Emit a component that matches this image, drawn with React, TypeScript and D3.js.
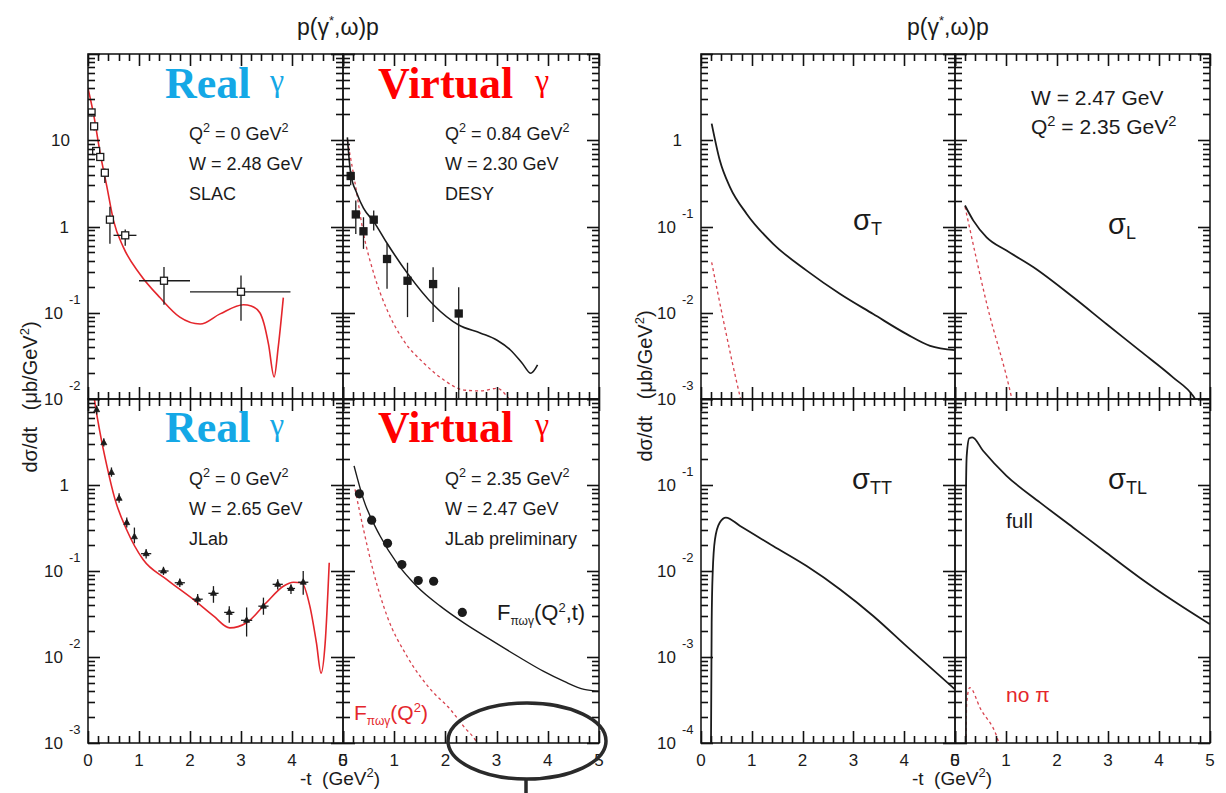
import React from 'react';
import * as d3 from 'd3';

type Pt = [number, number];
type Obs = { t: number; v: number; lo: number; hi: number; tLo: number; tHi: number };

// ---- top-left: real photon, SLAC, Q2 = 0, W = 2.48 GeV
const slacModel: Pt[] = [
  [0, 40], [0.11, 20], [0.24, 7], [0.37, 2.9], [0.5, 1.17], [0.69, 0.58], [1.02, 0.28],
  [1.41, 0.15], [1.8, 0.089], [2.2, 0.074], [2.59, 0.097], [3.05, 0.124], [3.2, 0.12],
  [3.37, 0.1], [3.45, 0.075], [3.54, 0.043], [3.65, 0.018], [3.73, 0.04], [3.83, 0.15],
];
const slacData: Obs[] = [
  { t: 0.07, v: 21, lo: 19, hi: 23, tLo: 0.07, tHi: 0.07 },
  { t: 0.12, v: 14.5, lo: 13, hi: 16, tLo: 0.12, tHi: 0.12 },
  { t: 0.16, v: 7.5, lo: 6.8, hi: 8.3, tLo: 0.16, tHi: 0.16 },
  { t: 0.24, v: 6.4, lo: 5.8, hi: 7.1, tLo: 0.24, tHi: 0.24 },
  { t: 0.33, v: 4.2, lo: 3.2, hi: 4.7, tLo: 0.33, tHi: 0.33 },
  { t: 0.43, v: 1.2, lo: 0.63, hi: 1.69, tLo: 0.43, tHi: 0.43 },
  { t: 0.73, v: 0.79, lo: 0.6, hi: 0.92, tLo: 0.5, tHi: 0.95 },
  { t: 1.49, v: 0.235, lo: 0.124, hi: 0.34, tLo: 1.0, tHi: 2.0 },
  { t: 3.0, v: 0.175, lo: 0.081, hi: 0.27, tLo: 2.0, tHi: 3.97 },
];

// ---- top-right: virtual photon, DESY, Q2 = 0.84, W = 2.30 GeV
const desyFull: Pt[] = [
  [0.085, 10.8], [0.15, 4.14], [0.27, 2.43], [0.4, 1.63], [0.6, 1.14], [0.86, 0.64],
  [1.26, 0.286], [1.77, 0.123], [2.26, 0.072], [2.69, 0.058], [3.01, 0.048], [3.27, 0.037],
  [3.5, 0.026], [3.67, 0.0199], [3.8, 0.0248],
];
const desyNoPi: Pt[] = [
  [0.085, 10], [0.235, 3.2], [0.4, 0.83], [0.6, 0.286], [0.86, 0.108], [1.18, 0.048],
  [1.58, 0.026], [1.97, 0.0166], [2.36, 0.0127], [2.69, 0.0124], [3.01, 0.0133], [3.21, 0.0106],
  [3.3, 0.009],
];
const desyData: Obs[] = [
  { t: 0.15, v: 3.85, lo: 3.0, hi: 4.4, tLo: 0.15, tHi: 0.15 },
  { t: 0.25, v: 1.38, lo: 0.82, hi: 2.0, tLo: 0.25, tHi: 0.25 },
  { t: 0.4, v: 0.88, lo: 0.55, hi: 1.28, tLo: 0.4, tHi: 0.4 },
  { t: 0.6, v: 1.2, lo: 0.9, hi: 1.53, tLo: 0.6, tHi: 0.6 },
  { t: 0.86, v: 0.42, lo: 0.19, hi: 0.63, tLo: 0.86, tHi: 0.86 },
  { t: 1.26, v: 0.235, lo: 0.089, hi: 0.38, tLo: 1.26, tHi: 1.26 },
  { t: 1.76, v: 0.215, lo: 0.078, hi: 0.336, tLo: 1.76, tHi: 1.76 },
  { t: 2.26, v: 0.098, lo: 0.01, hi: 0.197, tLo: 2.26, tHi: 2.26 },
];

// ---- bottom-left: real photon, JLab, Q2 = 0, W = 2.65 GeV
const jlabRealModel: Pt[] = [
  [0.1, 13], [0.125, 10], [0.235, 4.1], [0.37, 1.67], [0.53, 0.68], [0.76, 0.3], [1.08, 0.136],
  [1.54, 0.08], [2.06, 0.047], [2.46, 0.03], [2.78, 0.0218], [3.11, 0.025], [3.5, 0.043],
  [3.83, 0.0665], [4.03, 0.074], [4.19, 0.073], [4.35, 0.039], [4.48, 0.0145], [4.57, 0.0065],
  [4.65, 0.0145], [4.73, 0.125],
];
const jlabRealData: Obs[] = [
  { t: 0.17, v: 7.5, lo: 6.6, hi: 8.4, tLo: 0.15, tHi: 0.19 },
  { t: 0.31, v: 3.1, lo: 2.8, hi: 3.5, tLo: 0.28, tHi: 0.34 },
  { t: 0.46, v: 1.4, lo: 1.25, hi: 1.6, tLo: 0.43, tHi: 0.49 },
  { t: 0.61, v: 0.7, lo: 0.62, hi: 0.8, tLo: 0.58, tHi: 0.64 },
  { t: 0.76, v: 0.365, lo: 0.32, hi: 0.42, tLo: 0.72, tHi: 0.8 },
  { t: 0.91, v: 0.25, lo: 0.21, hi: 0.32, tLo: 0.88, tHi: 0.94 },
  { t: 1.14, v: 0.159, lo: 0.14, hi: 0.18, tLo: 1.04, tHi: 1.24 },
  { t: 1.48, v: 0.1, lo: 0.09, hi: 0.112, tLo: 1.38, tHi: 1.58 },
  { t: 1.8, v: 0.073, lo: 0.065, hi: 0.082, tLo: 1.7, tHi: 1.9 },
  { t: 2.15, v: 0.047, lo: 0.04, hi: 0.054, tLo: 2.05, tHi: 2.25 },
  { t: 2.46, v: 0.055, lo: 0.0427, hi: 0.0667, tLo: 2.36, tHi: 2.56 },
  { t: 2.77, v: 0.033, lo: 0.025, hi: 0.039, tLo: 2.67, tHi: 2.87 },
  { t: 3.11, v: 0.0267, lo: 0.0173, hi: 0.0377, tLo: 3.0, tHi: 3.22 },
  { t: 3.44, v: 0.039, lo: 0.031, hi: 0.049, tLo: 3.34, tHi: 3.54 },
  { t: 3.72, v: 0.07, lo: 0.061, hi: 0.08, tLo: 3.62, tHi: 3.82 },
  { t: 3.98, v: 0.0626, lo: 0.054, hi: 0.07, tLo: 3.9, tHi: 4.06 },
  { t: 4.22, v: 0.074, lo: 0.053, hi: 0.1, tLo: 4.12, tHi: 4.32 },
];

// ---- bottom-right: virtual photon, JLab preliminary, Q2 = 2.35, W = 2.47 GeV
const jlabVirtFull: Pt[] = [
  [0.216, 1.67], [0.4, 0.68], [0.725, 0.255], [1.05, 0.124], [1.44, 0.0665], [1.9, 0.039],
  [2.36, 0.0249], [2.88, 0.0159], [3.41, 0.0102], [3.92, 0.0068], [4.32, 0.0052], [4.71, 0.0042],
  [5.0, 0.004],
];
const jlabVirtNoT: Pt[] = [
  [0.235, 0.89], [0.4, 0.305], [0.6, 0.095], [0.86, 0.03], [1.25, 0.0102], [1.71, 0.0042],
  [2.1, 0.00244], [2.36, 0.00155], [2.62, 0.001], [2.7, 0.0008],
];
const jlabVirtT = [0.32, 0.56, 0.87, 1.15, 1.47, 1.77, 2.33];
const jlabVirtV = [0.79, 0.39, 0.21, 0.119, 0.0775, 0.076, 0.033];

// ---- right figure: separated cross sections, W = 2.47, Q2 = 2.35
const sigmaT: Pt[] = [
  [0.21, 1.56], [0.37, 0.585], [0.57, 0.286], [0.9, 0.14], [1.42, 0.063], [2.08, 0.0308],
  [2.74, 0.0165], [3.39, 0.00966], [4.05, 0.00565], [4.51, 0.00413], [5.0, 0.00368],
];
const sigmaTNoPi: Pt[] = [[0.21, 0.0385], [0.44, 0.0082], [0.78, 0.001], [0.82, 0.0008]];
const sigmaL: Pt[] = [
  [0.196, 0.175], [0.36, 0.117], [0.62, 0.075], [1.01, 0.0526], [1.54, 0.0337], [2.32, 0.0151],
  [2.97, 0.0074], [3.63, 0.00361], [4.28, 0.00177], [4.67, 0.00108], [4.8, 0.0008],
];
const sigmaLNoPi: Pt[] = [[0.196, 0.17], [0.62, 0.0129], [1.11, 0.00103], [1.15, 0.0008]];
const sigmaTT: Pt[] = [
  [0.197, 0.0001], [0.21, 0.0025], [0.23, 0.0095], [0.275, 0.0233], [0.37, 0.0366],
  [0.49, 0.0418], [0.77, 0.0334], [1.42, 0.0195], [2.08, 0.0114], [2.74, 0.0061],
  [3.39, 0.003], [4.05, 0.00133], [5.0, 0.00042],
];
const sigmaTL: Pt[] = [
  [0.215, 0.0001], [0.216, 0.089], [0.23, 0.22], [0.28, 0.35], [0.34, 0.358], [0.55, 0.25],
  [1.01, 0.128], [1.67, 0.0624], [2.32, 0.0319], [2.97, 0.0163], [3.63, 0.0083],
  [4.28, 0.0045], [5.0, 0.0024],
];
const sigmaTLNoPi: Pt[] = [[0.214, 0.0001], [0.23, 0.0003], [0.29, 0.00044], [0.5, 0.00025], [0.82, 0.000118], [0.86, 0.0001]];

// tick labels
const xTickLabels = [0, 1, 2, 3, 4, 5];
const leftTopY = [10, 1, 0.1, 0.01];
const leftBottomY = [1, 0.1, 0.01, 0.001];
const rightTopY = [1, 0.1, 0.01, 0.001];
const rightBottomY = [0.1, 0.01, 0.001, 0.0001];

const SANS = '"Liberation Sans", Arial, sans-serif';
const SERIF = '"Liberation Serif", "Times New Roman", serif';
const INK = '#1b1b1b';
const RED = '#e4262c';
const DOTRED = '#d84450';
const CYAN = '#14a8e6';
const NB = '\u00a0';

const LEFT_FIG = { left: 88, mid: 343, right: 599 };
const RIGHT_FIG = { left: 701, mid: 955, right: 1210 };
const TOP = 54, MID = 399, BOT = 743;

type Fig = typeof LEFT_FIG;
type LineSpec = { data: Pt[]; color: string; dotted?: boolean; width?: number };
type PanelSpec = {
  id: string; fig: Fig; col: number; row: number; domain: [number, number];
  lines: LineSpec[]; obs?: { data: Obs[]; kind: string }; circles?: { t: number[]; v: number[] };
};

const panels: PanelSpec[] = [
  { id: 'slac', fig: LEFT_FIG, col: 0, row: 0, domain: [1e-2, 1e2],
    lines: [{ data: slacModel, color: RED }], obs: { data: slacData, kind: 'open' } },
  { id: 'desy', fig: LEFT_FIG, col: 1, row: 0, domain: [1e-2, 1e2],
    lines: [{ data: desyNoPi, color: DOTRED, dotted: true }, { data: desyFull, color: INK }],
    obs: { data: desyData, kind: 'square' } },
  { id: 'jreal', fig: LEFT_FIG, col: 0, row: 1, domain: [1e-3, 1e1],
    lines: [{ data: jlabRealModel, color: RED }], obs: { data: jlabRealData, kind: 'tri' } },
  { id: 'jvirt', fig: LEFT_FIG, col: 1, row: 1, domain: [1e-3, 1e1],
    lines: [{ data: jlabVirtNoT, color: DOTRED, dotted: true }, { data: jlabVirtFull, color: INK, width: 1.4 }],
    circles: { t: jlabVirtT, v: jlabVirtV } },
  { id: 'st', fig: RIGHT_FIG, col: 0, row: 0, domain: [1e-3, 1e1],
    lines: [{ data: sigmaTNoPi, color: DOTRED, dotted: true }, { data: sigmaT, color: INK, width: 1.8 }] },
  { id: 'sl', fig: RIGHT_FIG, col: 1, row: 0, domain: [1e-3, 1e1],
    lines: [{ data: sigmaLNoPi, color: DOTRED, dotted: true }, { data: sigmaL, color: INK, width: 1.8 }] },
  { id: 'stt', fig: RIGHT_FIG, col: 0, row: 1, domain: [1e-4, 1],
    lines: [{ data: sigmaTT, color: INK, width: 1.8 }] },
  { id: 'stl', fig: RIGHT_FIG, col: 1, row: 1, domain: [1e-4, 1],
    lines: [{ data: sigmaTLNoPi, color: DOTRED, dotted: true }, { data: sigmaTL, color: INK, width: 1.8 }] },
];

function scalesFor(p: PanelSpec) {
  const x0 = p.col === 0 ? p.fig.left : p.fig.mid;
  const x1 = p.col === 0 ? p.fig.mid : p.fig.right;
  const y0 = p.row === 0 ? TOP : MID;
  const y1 = p.row === 0 ? MID : BOT;
  const x = d3.scaleLinear().domain([0, 5]).range([x0, x1]);
  const y = d3.scaleLog().domain(p.domain).range([y1, y0]);
  return { x, y, x0, x1, y0, y1 };
}

const isDecade = (v: number) => Math.abs(Math.log10(v) - Math.round(Math.log10(v))) < 1e-6;

// ROOT-style ticks on all four sides of a panel, pointing inwards
function Ticks({ p }: { p: PanelSpec }) {
  const { x, y, x0, x1, y0, y1 } = scalesFor(p);
  const xs = d3.range(0, 26).map(i => ({ px: Math.round(x(i * 0.2)) + 0.5, len: i % 5 === 0 ? 12 : 7 }));
  const ys = y.ticks().map(v => ({ py: Math.round(y(v)) + 0.5, len: isDecade(v) ? 12 : 7 }));
  return (
    <g stroke="#111" strokeWidth={1.6} fill="none">
      {xs.map((k, i) => (
        <g key={'x' + i}>
          <line x1={k.px} y1={y1} x2={k.px} y2={y1 - k.len} />
          <line x1={k.px} y1={y0} x2={k.px} y2={y0 + k.len} />
        </g>
      ))}
      {ys.map((k, i) => (
        <g key={'y' + i}>
          <line x1={x0} y1={k.py} x2={x0 + k.len} y2={k.py} />
          <line x1={x1} y1={k.py} x2={x1 - k.len} y2={k.py} />
        </g>
      ))}
    </g>
  );
}

function Panel({ p }: { p: PanelSpec }) {
  const { x, y, x0, x1, y0, y1 } = scalesFor(p);
  const gen = d3.line<Pt>().x(d => x(d[0])).y(d => y(d[1])).curve(d3.curveMonotoneX);
  const clip = `clip-${p.id}`;
  return (
    <g>
      <clipPath id={clip}><rect x={x0} y={y0} width={x1 - x0} height={y1 - y0} /></clipPath>
      <g clipPath={`url(#${clip})`}>
        {p.lines.map((l, i) => (
          <path key={i} d={gen(l.data) || ''} fill="none" stroke={l.color}
            strokeWidth={l.dotted ? 1.3 : l.width ?? 1.6} strokeDasharray={l.dotted ? '3,3' : undefined} />
        ))}
        {p.obs && p.obs.data.map((o, i) => {
          const cx = x(o.t), cy = y(o.v);
          return (
            <g key={i} stroke={INK} strokeWidth={1.3}>
              <line x1={cx} x2={cx} y1={y(o.lo)} y2={y(o.hi)} />
              <line x1={x(o.tLo)} x2={x(o.tHi)} y1={cy} y2={cy} />
              {p.obs!.kind === 'open' && <rect x={cx - 3.5} y={cy - 3.5} width={7} height={7} fill="#fff" />}
              {p.obs!.kind === 'square' && <rect x={cx - 3.5} y={cy - 3.5} width={7} height={7} fill={INK} />}
              {p.obs!.kind === 'tri' && (
                <path d={`M${cx},${cy - 3.5}L${cx + 3},${cy + 2}L${cx - 3},${cy + 2}Z`} fill={INK} strokeWidth={0.8} />
              )}
            </g>
          );
        })}
        {p.circles && p.circles.t.map((t, i) => (
          <circle key={i} cx={x(t)} cy={y(p.circles!.v[i])} r={4.6} fill={INK} />
        ))}
      </g>
      <rect x={x0} y={y0} width={x1 - x0} height={y1 - y0} fill="none" stroke={INK} strokeWidth={1.6} />
    </g>
  );
}

function YLabels({ fig, row, values }: { fig: Fig; row: number; values: number[] }) {
  const y = d3.scaleLog().domain(row === 0 ? (fig === LEFT_FIG ? [1e-2, 1e2] : [1e-3, 1e1]) : (fig === LEFT_FIG ? [1e-3, 1e1] : [1e-4, 1]))
    .range(row === 0 ? [MID, TOP] : [BOT, MID]);
  return (
    <g fontFamily={SANS} fill={INK}>
      {values.map(v => {
        const e = Math.round(Math.log10(v));
        const py = y(v);
        if (e === 0) return <text key={v} x={fig.left - 19} y={py + 6} fontSize={17} textAnchor="end">1</text>;
        if (e === 1) return <text key={v} x={fig.left - 18} y={py + 6} fontSize={17} textAnchor="end">10</text>;
        return (
          <g key={v}>
            <text x={fig.left - 25} y={py + 6} fontSize={17} textAnchor="end">10</text>
            <text x={fig.left - 19} y={py - 9} fontSize={13}>{String(e)}</text>
          </g>
        );
      })}
    </g>
  );
}

function XLabels({ fig }: { fig: Fig }) {
  const a = d3.scaleLinear().domain([0, 5]).range([fig.left, fig.mid]);
  const b = d3.scaleLinear().domain([0, 5]).range([fig.mid, fig.right]);
  return (
    <g fontFamily={SANS} fontSize={17} fill={INK} textAnchor="middle">
      {xTickLabels.map(t => <text key={'a' + t} x={a(t)} y={766}>{t}</text>)}
      {xTickLabels.map(t => <text key={'b' + t} x={b(t)} y={766}>{t}</text>)}
    </g>
  );
}

function Sup({ children }: { children: React.ReactNode }) {
  return <tspan dy={-8} fontSize="0.7em">{children}</tspan>;
}

function InfoBlock({ x, y, size, lines }: { x: number; y: number[]; size: number; lines: React.ReactNode[] }) {
  return (
    <g fontFamily={SANS} fontSize={size} fill={INK}>
      {lines.map((l, i) => <text key={i} x={x} y={y[i]}>{l}</text>)}
    </g>
  );
}

function AxisTitles({ cx, ycx, ycy }: { cx: number; ycx: number; ycy: number }) {
  return (
    <g fontFamily={SANS} fill={INK}>
      <text x={cx} y={785} fontSize={19} textAnchor="middle">
        {`-t${NB}${NB}(GeV`}<tspan dy={-8} fontSize={13}>2</tspan><tspan dy={8}>)</tspan>
      </text>
      <text transform={`translate(${ycx},${ycy}) rotate(-90)`} fontSize={20} textAnchor="middle">
        {`dσ/dt${NB}${NB}${NB}(μb/GeV`}<tspan dy={-8} fontSize={13}>2</tspan><tspan dy={8}>)</tspan>
      </text>
    </g>
  );
}

function Title({ cx }: { cx: number }) {
  return (
    <text x={cx} y={35} fontFamily={SANS} fontSize={23} fill={INK} textAnchor="middle">
      p(γ<tspan dy={-10} fontSize={13}>*</tspan><tspan dy={10}>,ω)p</tspan>
    </text>
  );
}

function PhotonTag({ x, y, word, color }: { x: number; y: number; word: string; color: string }) {
  const wordW = word === 'Real' ? 105 : 157;
  return (
    <g fill={color} fontFamily={SERIF}>
      <text x={x} y={y} fontSize={44} fontWeight="bold">{word}</text>
      <text x={x + wordW} y={y - 7} fontSize={32}>γ</text>
    </g>
  );
}

function Sigma({ x, y, sub }: { x: number; y: number; sub: string }) {
  return (
    <text x={x} y={y} fontFamily={SANS} fontSize={29} fill={INK}>
      σ<tspan dy={5} fontSize={18}>{sub}</tspan>
    </text>
  );
}

export default function App() {
  return (
    <svg width={1226} height={793} viewBox="0 0 1226 793"
      style={{ position: 'absolute', left: 0, top: 0, display: 'block', background: '#fff' }}>
      <rect width={1226} height={793} fill="#fff" />
      {panels.map(p => <Panel key={p.id} p={p} />)}
      {panels.map(p => <Ticks key={'tk' + p.id} p={p} />)}

      <YLabels fig={LEFT_FIG} row={0} values={leftTopY} />
      <YLabels fig={LEFT_FIG} row={1} values={leftBottomY} />
      <YLabels fig={RIGHT_FIG} row={0} values={rightTopY} />
      <YLabels fig={RIGHT_FIG} row={1} values={rightBottomY} />
      <XLabels fig={LEFT_FIG} />
      <XLabels fig={RIGHT_FIG} />

      <Title cx={338} />
      <Title cx={948} />
      <AxisTitles cx={340} ycx={37} ycy={397} />
      <AxisTitles cx={952} ycx={652} ycy={386} />

      <PhotonTag x={165} y={98} word="Real" color={CYAN} />
      <PhotonTag x={378} y={98} word="Virtual" color="#ff0000" />
      <PhotonTag x={165} y={442} word="Real" color={CYAN} />
      <PhotonTag x={378} y={442} word="Virtual" color="#ff0000" />

      <InfoBlock x={189} y={[140, 170, 200]} size={18}
        lines={[<>Q<Sup>2</Sup><tspan dy={8}>{' = 0 GeV'}</tspan><Sup>2</Sup></>, 'W = 2.48 GeV', 'SLAC']} />
      <InfoBlock x={445} y={[140, 170, 200]} size={18}
        lines={[<>Q<Sup>2</Sup><tspan dy={8}>{' = 0.84 GeV'}</tspan><Sup>2</Sup></>, 'W = 2.30 GeV', 'DESY']} />
      <InfoBlock x={189} y={[485, 515, 545]} size={18}
        lines={[<>Q<Sup>2</Sup><tspan dy={8}>{' = 0 GeV'}</tspan><Sup>2</Sup></>, 'W = 2.65 GeV', 'JLab']} />
      <InfoBlock x={445} y={[485, 515, 545]} size={18}
        lines={[<>Q<Sup>2</Sup><tspan dy={8}>{' = 2.35 GeV'}</tspan><Sup>2</Sup></>, 'W = 2.47 GeV', 'JLab preliminary']} />
      <InfoBlock x={1031} y={[105, 134]} size={21}
        lines={['W = 2.47 GeV', <>Q<Sup>2</Sup><tspan dy={8}>{' = 2.35 GeV'}</tspan><Sup>2</Sup></>]} />

      <text x={497} y={620} fontFamily={SANS} fontSize={22} fill={INK}>
        F<tspan dy={5} fontSize={12}>πωγ</tspan><tspan dy={-5}>(Q</tspan><tspan dy={-8} fontSize={13}>2</tspan><tspan dy={8}>,t)</tspan>
      </text>
      <text x={354} y={720} fontFamily={SANS} fontSize={21} fill={RED}>
        F<tspan dy={5} fontSize={12}>πωγ</tspan><tspan dy={-5}>(Q</tspan><tspan dy={-8} fontSize={13}>2</tspan><tspan dy={8}>)</tspan>
      </text>

      <Sigma x={853} y={230} sub="T" />
      <Sigma x={1108} y={234} sub="L" />
      <Sigma x={852} y={489} sub="TT" />
      <Sigma x={1108} y={489} sub="TL" />
      <text x={1006} y={528} fontFamily={SANS} fontSize={21} fill={INK}>full</text>
      <text x={1006} y={702} fontFamily={SANS} fontSize={21} fill={RED}>no π</text>

      <ellipse cx={527} cy={741} rx={79} ry={38} fill="none" stroke="#2a2a2a" strokeWidth={3.5} />
      <line x1={526} x2={526} y1={779} y2={793} stroke="#2a2a2a" strokeWidth={3.5} />
    </svg>
  );
}
